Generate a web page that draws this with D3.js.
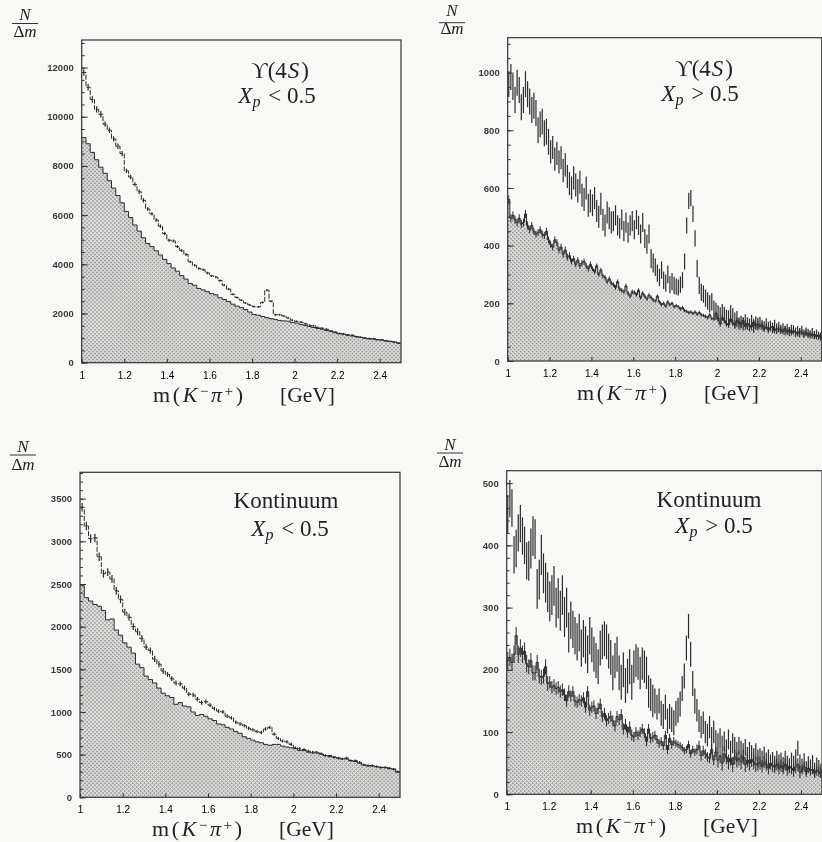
<!DOCTYPE html>
<html>
<head>
<meta charset="utf-8">
<script src="https://cdnjs.cloudflare.com/ajax/libs/d3/7.8.5/d3.min.js"></script>
<style>
  html, body {margin: 0; padding: 0; background: #f8f8f6; overflow: hidden;}
  svg {display: block; filter: blur(0.45px);}
</style>
</head>
<body>
<script>
var width = 822;
var height = 842;

var xTicks = [1, 1.2, 1.4, 1.6, 1.8, 2, 2.2, 2.4];

// upsilon(4S), Xp < 0.5, bins of 0.02 GeV
var upsLowAll = [
  11800,11200,10700,10300,10100,9700,9450,9100,8800,8500,
  7800,7550,7250,6950,6600,6250,6050,5800,5550,5250,
  4980,4950,4720,4560,4400,4100,3960,3830,3780,3650,
  3530,3480,3340,3150,2990,2780,2650,2540,2430,2350,
  2280,2270,2450,2950,2500,1950,1950,1900,1820,1730,
  1680,1650,1580,1520,1500,1430,1400,1360,1290,1250,
  1190,1170,1130,1120,1060,1040,1010,980,980,940,
  930,890,860,840,790];
var upsLowCont = [
  9150,8900,8550,8250,7950,7700,7400,7100,6800,6500,
  6150,5900,5600,5350,5080,4850,4720,4550,4380,4200,
  4030,3850,3720,3540,3400,3220,3150,3020,2960,2890,
  2810,2760,2640,2570,2490,2380,2300,2240,2160,2060,
  1960,1930,1880,1830,1790,1760,1720,1700,1690,1640,
  1610,1560,1520,1470,1430,1390,1360,1310,1280,1220,
  1180,1160,1120,1090,1060,1030,1000,970,960,930,
  920,890,870,840,800];

// upsilon(4S), Xp > 0.5, bins of 0.01 GeV
var upsHighAll = [
  960,985,950,905,965,940,880,905,960,925,
  900,870,885,860,800,820,830,790,795,760,
  725,740,700,720,690,705,660,680,640,615,
  600,635,610,590,620,575,560,600,540,555,
  540,565,520,500,545,490,470,515,495,480,
  485,505,470,460,490,450,480,445,470,485,
  455,490,470,440,480,425,405,440,355,340,
  325,305,290,315,280,270,300,265,275,262,
  258,255,265,280,345,470,555,565,510,425,
  320,262,238,232,218,208,198,205,180,172,
  165,158,170,160,150,148,165,155,140,145,
  130,135,128,140,130,125,138,120,132,128,
  135,125,120,130,118,122,115,125,112,118,
  110,115,105,112,102,110,108,100,105,98,
  108,95,102,98,92,100,90,95,88,85];
var upsHighCont = [
  560,495,505,490,480,495,475,480,510,470,
  455,470,450,440,445,455,440,435,450,420,
  405,395,420,410,385,395,370,385,360,365,
  345,355,335,350,330,340,345,330,320,335,
  320,310,330,300,315,295,290,275,285,270,
  265,255,275,250,245,240,260,235,225,240,
  238,230,245,220,235,225,215,228,220,212,
  208,225,205,195,200,190,205,195,200,188,
  192,188,180,185,175,172,168,170,165,170,
  162,168,160,158,155,150,160,148,145,165,
  148,128,150,140,130,125,145,132,125,140,
  135,128,140,120,130,125,118,135,122,128,
  120,125,112,118,108,115,120,105,112,110,
  110,102,112,100,108,98,105,100,95,102,
  100,92,98,90,95,88,92,85,90,82];

// Kontinuum, Xp < 0.5, bins of 0.02 GeV
var kontLowAll = [
  3400,3180,3030,3040,2820,2620,2640,2560,2420,2320,
  2170,2110,2000,1940,1860,1760,1720,1620,1560,1480,
  1440,1390,1340,1330,1280,1210,1200,1150,1110,1120,
  1080,1040,1010,1000,950,930,880,860,840,810,
  790,770,760,800,820,740,690,660,650,620,
  580,570,560,540,530,530,510,490,480,470,
  460,450,460,430,430,410,380,370,370,360,
  350,350,340,330,300];
var kontLowCont = [
  2480,2340,2300,2260,2240,2190,2080,2090,1960,1900,
  1810,1760,1690,1560,1520,1420,1380,1340,1280,1220,
  1190,1170,1090,1110,1070,1060,1000,960,970,950,
  920,900,860,850,820,800,770,750,710,690,
  670,650,640,620,610,620,620,600,590,580,
  570,550,550,530,520,520,510,490,490,470,
  460,450,450,430,420,400,380,370,370,360,
  350,350,340,330,295];

// Kontinuum, Xp > 0.5, bins of 0.01 GeV
var kontHighAll = [
  450,475,460,385,395,420,435,415,400,375,
  375,395,415,410,330,345,385,355,340,325,
  310,320,335,300,315,295,320,285,300,260,
  280,265,255,245,260,235,250,240,225,255,
  240,225,215,205,235,245,250,245,230,220,
  195,215,225,195,180,200,175,190,205,180,
  205,215,210,195,210,205,195,165,160,150,
  150,140,150,130,125,140,118,125,120,115,
  130,135,145,170,190,235,270,225,178,150,
  135,118,108,115,100,95,108,90,100,85,
  82,90,78,85,72,88,70,82,76,68,
  78,72,68,75,62,70,65,60,68,58,
  62,58,65,55,60,52,56,50,58,52,
  55,48,58,50,46,55,50,60,74,52,
  46,55,42,50,45,52,40,48,44,38];
var kontHighCont = [
  215,220,212,225,255,225,235,225,230,210,
  205,215,195,195,212,190,188,190,205,178,
  180,172,175,170,172,165,168,160,150,165,
  158,165,150,148,152,150,155,140,165,135,
  140,142,130,138,145,125,130,118,122,125,
  118,110,125,120,128,105,112,100,108,95,
  92,100,95,100,105,98,85,105,90,92,
  95,88,82,85,78,95,72,90,80,85,
  82,80,78,75,70,72,80,65,72,68,
  72,78,62,70,65,60,58,72,55,68,
  55,62,50,65,60,52,58,48,60,55,
  58,52,60,48,55,50,56,52,48,50,
  50,45,52,48,42,50,46,44,48,42,
  46,42,48,40,45,42,38,44,48,36,
  40,44,36,42,38,40,34,38,36,34];

// half height of the error bars, one entry per 0.1 GeV
var upsLowAllErr = [130,110,90,70,60,50,45,40,40,40,40,40,40,30,30];
var upsHighAllErr = [45,45,40,40,38,35,33,30,28,30,28,22,18,16,14];
var upsHighContErr = [14,12,12,10,8,8,7,6,6,6,10,12,10,10,10];
var kontLowAllErr = [50,45,40,35,28,25,22,20,20,18,16,14,14,14,14];
var kontHighAllErr = [30,32,32,30,28,28,26,20,20,18,16,14,12,12,11];
var kontHighContErr = [14,12,10,9,9,9,8,7,6,8,12,12,10,10,8];

var panels = [
  {left: 81.7, right: 401, top: 40, bottom: 362.7, yMax: 13120, major: 2000, minor: 500,
   all: upsLowAll, cont: upsLowCont, allErr: upsLowAllErr, contErr: null, allLine: true,
   title: "upsilon", cut: "<", titleX: 280, titleY: 78, cutX: 277, cutY: 103,
   labelX: 153, labelY: 402, fracX: 25, fracN: 20, fracLine: 23.5, fracD: 37},
  {left: 507.7, right: 821.7, top: 37.7, bottom: 361, yMax: 1121, major: 200, minor: 50,
   all: upsHighAll, cont: upsHighCont, allErr: upsHighAllErr, contErr: upsHighContErr, allLine: false,
   title: "upsilon", cut: ">", titleX: 704, titleY: 76, cutX: 700, cutY: 101,
   labelX: 577, labelY: 400, fracX: 452, fracN: 16, fracLine: 22.7, fracD: 34},
  {left: 80, right: 400, top: 472.3, bottom: 797.3, yMax: 3809, major: 500, minor: 100,
   all: kontLowAll, cont: kontLowCont, allErr: kontLowAllErr, contErr: null, allLine: true,
   title: "Kontinuum", cut: "<", titleX: 286, titleY: 508, cutX: 290, cutY: 536,
   labelX: 152, labelY: 836, fracX: 23, fracN: 452, fracLine: 455, fracD: 470},
  {left: 506.7, right: 822, top: 470.7, bottom: 794.3, yMax: 520, major: 100, minor: 20,
   all: kontHighAll, cont: kontHighCont, allErr: kontHighAllErr, contErr: kontHighContErr, allLine: false,
   title: "Kontinuum", cut: ">", titleX: 709, titleY: 507, cutX: 714, cutY: 533,
   labelX: 576, labelY: 833, fracX: 450, fracN: 450, fracLine: 453, fracD: 467}
];

var ink = "#333";
var serif = "'Liberation Serif', 'DejaVu Serif', serif";

var svg = d3.select("body")
    .append("svg")
    .attr("width", width)
    .attr("height", height);

var stipple = svg.append("defs").append("pattern")
    .attr("id", "stipple")
    .attr("patternUnits", "userSpaceOnUse")
    .attr("patternTransform", "rotate(45)")
    .attr("width", 2.8)
    .attr("height", 2.8);
stipple.append("rect").attr("width", 2.8).attr("height", 2.8).attr("fill", "#e2e2e0");
stipple.append("rect").attr("width", 1.6).attr("height", 1.6).attr("fill", "#8c8c8c");

function bins(values){
  var step = 1.5 / values.length;
  var out = values.map(function(v, i){return {x: 1 + i * step, mid: 1 + (i + 0.5) * step, y: v, i: i};});
  out.push({x: 2.5, y: values[values.length - 1]});
  return out;
}

function stepLine(x, y){
  return d3.line()
    .curve(d3.curveStepAfter)
    .x(function(d){return x(d.x);})
    .y(function(d){return y(d.y);});
}

function errorBars(g, values, errs, x, y, sw){
  g.append("g")
    .selectAll("line")
    .data(bins(values).slice(0, values.length))
    .enter()
    .append("line")
    .attr("x1", function(d){return x(d.mid);})
    .attr("x2", function(d){return x(d.mid);})
    .attr("y1", function(d){return y(d.y - errs[Math.floor((d.x - 1) * 10 + 1e-6)]);})
    .attr("y2", function(d){return y(d.y + errs[Math.floor((d.x - 1) * 10 + 1e-6)]);})
    .attr("stroke", "#2b2b2b")
    .attr("stroke-width", sw);
}

function drawPanel(p){
  var x = d3.scaleLinear().domain([1, 2.5]).range([p.left, p.right]);
  var y = d3.scaleLinear().domain([0, p.yMax]).range([p.bottom, p.top]);
  var g = svg.append("g");

  // background histogram
  g.append("path")
    .datum(bins(p.cont))
    .attr("fill", "url(#stipple)")
    .attr("d", d3.area()
      .curve(d3.curveStepAfter)
      .x(function(d){return x(d.x);})
      .y0(y(0))
      .y1(function(d){return y(d.y);}));
  g.append("path")
    .datum(bins(p.cont))
    .attr("fill", "none")
    .attr("stroke", "#2b2b2b")
    .attr("stroke-width", 1)
    .attr("d", stepLine(x, y));
  if(p.contErr){errorBars(g, p.cont, p.contErr, x, y, 1);}

  // all events
  if(p.allLine){
    g.append("path")
      .datum(bins(p.all))
      .attr("fill", "none")
      .attr("stroke", "#2b2b2b")
      .attr("stroke-width", 1)
      .attr("stroke-dasharray", "5 1.5")
      .attr("d", stepLine(x, y));
  }
  errorBars(g, p.all, p.allErr, x, y, 1.2);

  // frame
  g.append("rect")
    .attr("x", p.left)
    .attr("y", p.top)
    .attr("width", p.right - p.left)
    .attr("height", p.bottom - p.top)
    .attr("fill", "none")
    .attr("stroke", ink)
    .attr("stroke-width", 1.2);

  // axes
  var leftAxis = d3.axisLeft(y)
    .tickValues(d3.range(0, p.yMax, p.major))
    .tickSize(-6)
    .tickPadding(8)
    .tickFormat(d3.format("d"));
  var yg = g.append("g").attr("transform", "translate(" + p.left + ",0)").call(leftAxis);
  var minorAxis = d3.axisLeft(y)
    .tickValues(d3.range(0, p.yMax, p.minor))
    .tickSize(-3)
    .tickFormat("");
  g.append("g").attr("transform", "translate(" + p.left + ",0)").call(minorAxis);

  var bottomAxis = d3.axisBottom(x)
    .tickValues(xTicks)
    .tickSize(-4)
    .tickPadding(9)
    .tickFormat(d3.format("~g"));
  var xg = g.append("g").attr("transform", "translate(0," + p.bottom + ")").call(bottomAxis);

  g.selectAll(".domain").remove();
  g.selectAll(".tick line").attr("stroke", ink).attr("stroke-width", 1);
  yg.selectAll("text").merge(xg.selectAll("text"))
    .attr("fill", "#3a3a3a")
    .style("font-family", "'Liberation Sans', sans-serif")
    .style("font-size", "9.5px")
    .style("font-weight", "bold");

  drawLabels(p);
}

function drawLabels(p){
  // x axis title
  var t = svg.append("text")
    .attr("x", p.labelX)
    .attr("y", p.labelY)
    .attr("fill", "#222")
    .style("font-family", serif)
    .style("font-size", "22px")
    .style("letter-spacing", "2.6px");
  t.append("tspan").text("m(");
  t.append("tspan").style("font-style", "italic").text("K");
  t.append("tspan").attr("dy", -6).style("font-size", "15px").text("\u2212");
  t.append("tspan").attr("dy", 6).style("font-style", "italic").text("\u03c0");
  t.append("tspan").attr("dy", -6).style("font-size", "15px").text("+");
  t.append("tspan").attr("dy", 6).text(")");
  svg.append("text")
    .attr("x", p.labelX + 127)
    .attr("y", p.labelY)
    .attr("fill", "#222")
    .style("font-family", serif)
    .style("font-size", "21.5px")
    .text("[GeV]");

  // panel title
  var h = svg.append("text")
    .attr("x", p.titleX)
    .attr("y", p.titleY)
    .attr("text-anchor", "middle")
    .attr("fill", "#222")
    .style("font-family", serif)
    .style("font-size", "23px");
  if(p.title == "upsilon"){
    h.append("tspan").text("\u03d2(4");
    h.append("tspan").attr("dx", 1).style("font-style", "italic").text("S");
    h.append("tspan").attr("dx", 2).text(")");
  } else {
    h.text(p.title);
  }

  // momentum cut
  var c = svg.append("text")
    .attr("x", p.cutX)
    .attr("y", p.cutY)
    .attr("text-anchor", "middle")
    .attr("fill", "#222")
    .style("font-family", serif)
    .style("font-size", "23px");
  c.append("tspan").style("font-style", "italic").text("X");
  c.append("tspan").attr("dy", 4).style("font-style", "italic").style("font-size", "16px").text("p");
  c.append("tspan").attr("dy", -4).attr("dx", 2).text(" " + p.cut + " 0.5");

  // N / delta m
  svg.append("text")
    .attr("x", p.fracX)
    .attr("y", p.fracN)
    .attr("text-anchor", "middle")
    .attr("fill", "#222")
    .style("font-family", serif)
    .style("font-style", "italic")
    .style("font-size", "17px")
    .text("N");
  svg.append("line")
    .attr("x1", p.fracX - 13)
    .attr("x2", p.fracX + 13)
    .attr("y1", p.fracLine)
    .attr("y2", p.fracLine)
    .attr("stroke", "#333")
    .attr("stroke-width", 1);
  var d = svg.append("text")
    .attr("x", p.fracX)
    .attr("y", p.fracD)
    .attr("text-anchor", "middle")
    .attr("fill", "#222")
    .style("font-family", serif)
    .style("font-size", "17px");
  d.append("tspan").text("\u0394");
  d.append("tspan").style("font-style", "italic").text("m");
}

panels.forEach(drawPanel);
</script>
</body>
</html>
